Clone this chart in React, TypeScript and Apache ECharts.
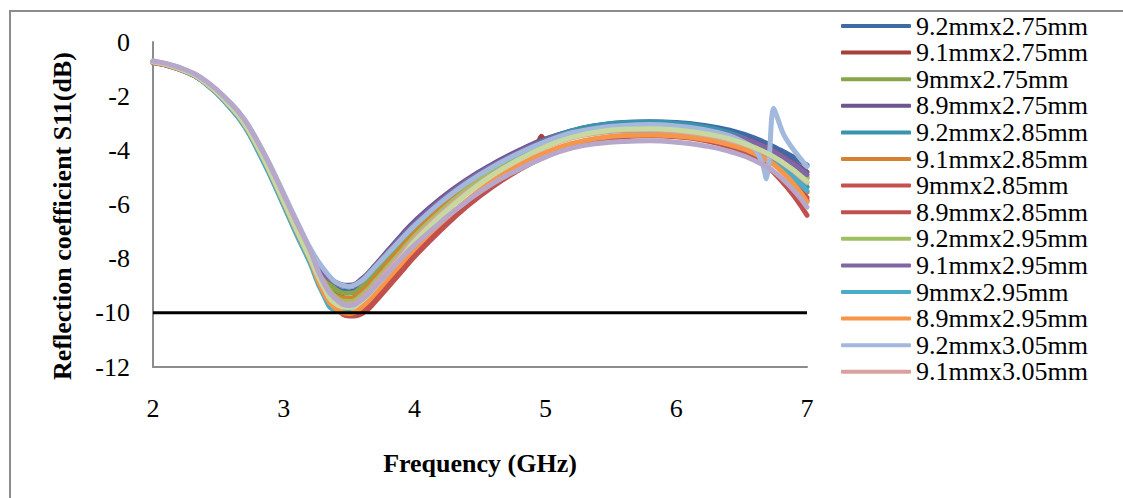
import React, { useEffect, useRef } from "react";
import * as echarts from "echarts";

const FREQ = [2.0, 2.2, 2.4, 2.6, 2.7, 2.8, 2.9, 3.0, 3.1, 3.2, 3.3, 3.4, 3.5, 3.6, 3.7, 3.8, 3.9, 4.0, 4.2, 4.4, 4.6, 4.8, 5.0, 5.2, 5.4, 5.6, 5.8, 6.0, 6.2, 6.4, 6.6, 6.8, 7.0];
const FREQ_S2 = [2.0, 2.2, 2.4, 2.6, 2.7, 2.8, 2.9, 3.0, 3.1, 3.2, 3.3, 3.4, 3.5, 3.6, 3.7, 3.8, 3.9, 4.0, 4.2, 4.4, 4.6, 4.8, 4.9, 4.94, 4.97, 5.0, 5.2, 5.4, 5.6, 5.8, 6.0, 6.2, 6.4, 6.6, 6.8, 7.0];
const FREQ_S13 = [2.0, 2.2, 2.4, 2.6, 2.7, 2.8, 2.9, 3.0, 3.1, 3.2, 3.3, 3.4, 3.5, 3.6, 3.7, 3.8, 3.9, 4.0, 4.2, 4.4, 4.6, 4.8, 5.0, 5.2, 5.4, 5.6, 5.8, 6.0, 6.2, 6.4, 6.5, 6.6, 6.66, 6.69, 6.71, 6.73, 6.745, 6.77, 6.82, 6.9, 7.0];

const S1 = [-0.72, -0.97, -1.47, -2.37, -2.97, -3.8, -4.75, -5.8, -6.85, -7.85, -8.6, -9.1, -9.22, -8.97, -8.47, -7.92, -7.37, -6.85, -5.95, -5.2, -4.57, -4.05, -3.6, -3.28, -3.08, -2.97, -2.94, -2.97, -3.07, -3.25, -3.55, -4.0, -4.55];
const S2 = [-0.74, -0.99, -1.49, -2.4, -3.0, -3.83, -4.78, -5.83, -6.88, -7.87, -8.6, -9.28, -9.5, -9.25, -8.72, -8.12, -7.52, -6.95, -6.0, -5.22, -4.58, -4.05, -3.83, -3.74, -3.48, -3.66, -3.38, -3.22, -3.15, -3.15, -3.2, -3.33, -3.55, -3.95, -4.7, -5.85];
const S3 = [-0.73, -0.98, -1.48, -2.38, -2.98, -3.82, -4.77, -5.82, -6.87, -7.86, -8.6, -9.15, -9.28, -9.03, -8.53, -7.98, -7.43, -6.92, -6.02, -5.25, -4.62, -4.1, -3.68, -3.38, -3.2, -3.12, -3.12, -3.17, -3.28, -3.47, -3.78, -4.28, -5.0];
const S4 = [-0.72, -0.97, -1.46, -2.35, -2.95, -3.78, -4.72, -5.76, -6.8, -7.78, -8.5, -8.88, -8.98, -8.73, -8.23, -7.68, -7.13, -6.62, -5.78, -5.08, -4.5, -4.0, -3.58, -3.32, -3.18, -3.1, -3.08, -3.1, -3.2, -3.38, -3.68, -4.15, -4.8];
const S5 = [-0.73, -0.99, -1.52, -2.47, -3.1, -3.97, -4.95, -6.02, -7.1, -8.1, -9.1, -9.65, -9.68, -9.35, -8.85, -8.3, -7.75, -7.18, -6.2, -5.35, -4.65, -4.08, -3.62, -3.28, -3.07, -2.97, -2.95, -3.0, -3.12, -3.35, -3.75, -4.4, -5.35];
const S6 = [-0.73, -0.98, -1.49, -2.4, -3.01, -3.85, -4.8, -5.86, -6.92, -7.92, -8.75, -9.38, -9.47, -9.2, -8.7, -8.15, -7.6, -7.07, -6.15, -5.37, -4.72, -4.2, -3.77, -3.47, -3.3, -3.23, -3.23, -3.28, -3.4, -3.6, -3.95, -4.55, -5.55];
const S7 = [-0.76, -1.0, -1.5, -2.4, -3.0, -3.83, -4.78, -5.83, -6.88, -7.9, -9.05, -9.72, -10.03, -9.9, -9.45, -8.9, -8.35, -7.8, -6.85, -5.98, -5.25, -4.65, -4.18, -3.82, -3.6, -3.47, -3.42, -3.45, -3.55, -3.75, -4.1, -4.7, -5.75];
const S8 = [-0.76, -1.0, -1.5, -2.41, -3.02, -3.85, -4.8, -5.85, -6.9, -7.92, -9.1, -9.78, -10.12, -10.02, -9.58, -9.03, -8.48, -7.92, -6.95, -6.07, -5.33, -4.72, -4.23, -3.86, -3.63, -3.5, -3.46, -3.5, -3.62, -3.87, -4.28, -5.1, -6.4];
const S9 = [-0.72, -0.97, -1.48, -2.39, -3.0, -3.84, -4.8, -5.86, -6.92, -7.92, -8.8, -9.43, -9.58, -9.33, -8.83, -8.28, -7.73, -7.18, -6.25, -5.45, -4.78, -4.24, -3.8, -3.48, -3.28, -3.18, -3.17, -3.22, -3.33, -3.52, -3.83, -4.32, -5.05];
const S10 = [-0.72, -0.97, -1.46, -2.36, -2.96, -3.79, -4.73, -5.78, -6.82, -7.8, -8.5, -8.9, -9.03, -8.78, -8.28, -7.73, -7.2, -6.7, -5.85, -5.13, -4.55, -4.05, -3.63, -3.35, -3.18, -3.1, -3.1, -3.13, -3.23, -3.42, -3.72, -4.2, -4.9];
const S11 = [-0.74, -1.0, -1.53, -2.49, -3.12, -4.0, -4.98, -6.05, -7.13, -8.15, -9.3, -9.88, -9.85, -9.5, -9.0, -8.45, -7.9, -7.38, -6.42, -5.58, -4.88, -4.3, -3.85, -3.52, -3.35, -3.28, -3.28, -3.33, -3.45, -3.67, -4.02, -4.6, -5.5];
const S12 = [-0.74, -0.99, -1.5, -2.42, -3.04, -3.89, -4.86, -5.93, -7.0, -8.02, -9.2, -9.85, -10.02, -9.77, -9.27, -8.72, -8.17, -7.63, -6.68, -5.85, -5.12, -4.55, -4.08, -3.75, -3.55, -3.45, -3.43, -3.47, -3.58, -3.78, -4.12, -4.75, -5.9];
const S13 = [-0.7, -0.94, -1.42, -2.28, -2.86, -3.66, -4.58, -5.6, -6.62, -7.6, -8.35, -8.88, -9.03, -8.8, -8.3, -7.78, -7.27, -6.78, -5.92, -5.2, -4.6, -4.1, -3.68, -3.35, -3.17, -3.08, -3.05, -3.1, -3.22, -3.45, -3.65, -3.95, -4.5, -5.05, -4.4, -2.8, -2.45, -2.75, -3.4, -4.0, -4.6];
const S14 = [-0.72, -0.97, -1.47, -2.37, -2.97, -3.81, -4.76, -5.81, -6.86, -7.86, -8.85, -9.53, -9.68, -9.43, -8.93, -8.38, -7.83, -7.28, -6.35, -5.55, -4.88, -4.33, -3.88, -3.55, -3.35, -3.26, -3.25, -3.3, -3.42, -3.62, -3.93, -4.42, -5.2];
const S15 = [-0.73, -0.98, -1.49, -2.41, -3.02, -3.87, -4.84, -5.9, -6.96, -7.98, -9.0, -9.68, -9.8, -9.55, -9.05, -8.5, -7.95, -7.36, -6.42, -5.6, -4.9, -4.33, -3.87, -3.52, -3.32, -3.22, -3.2, -3.25, -3.37, -3.57, -3.9, -4.4, -5.15];
const S16 = [-0.7, -0.94, -1.43, -2.3, -2.88, -3.69, -4.62, -5.65, -6.68, -7.68, -8.85, -9.5, -9.73, -9.5, -9.02, -8.5, -7.98, -7.5, -6.65, -5.88, -5.22, -4.7, -4.25, -3.92, -3.75, -3.67, -3.65, -3.7, -3.82, -4.03, -4.38, -5.0, -6.1];

const NAMES = [
  "9.2mmx2.75mm", "9.1mmx2.75mm", "9mmx2.75mm", "8.9mmx2.75mm",
  "9.2mmx2.85mm", "9.1mmx2.85mm", "9mmx2.85mm", "8.9mmx2.85mm",
  "9.2mmx2.95mm", "9.1mmx2.95mm", "9mmx2.95mm", "8.9mmx2.95mm",
  "9.2mmx3.05mm", "9.1mmx3.05mm", "9mmx3.05mm", "8.9mmx3.05mm",
];
const LEGEND_SHOWN = NAMES.slice(0, 14);
const COLORS = [
  "#3D6BA5", "#A6403D", "#87A64C", "#6C5590",
  "#3A93AC", "#D6812F", "#C4514E", "#C0504D",
  "#A0C060", "#8066A3", "#4BACC6", "#F79646",
  "#A2B8DC", "#D9A19F", "#C8D9A0", "#B7A8CB",
];
const VALUES = [S1, S2, S3, S4, S5, S6, S7, S8, S9, S10, S11, S12, S13, S14, S15, S16];
const XS = [FREQ, FREQ_S2, FREQ, FREQ, FREQ, FREQ, FREQ, FREQ, FREQ, FREQ, FREQ, FREQ, FREQ_S13, FREQ, FREQ, FREQ];
const THRESHOLD_X = [2, 7];
const THRESHOLD_Y = [-10, -10];

const FONT = "'Liberation Serif', 'Times New Roman', serif";

export default function App() {
  const ref = useRef<HTMLDivElement>(null);
  useEffect(() => {
    const chart = echarts.init(ref.current!, null, { renderer: "svg" });
    const series: any[] = VALUES.map((vals, i) => ({
      name: NAMES[i],
      type: "line",
      data: XS[i].map((f, j) => [f, vals[j]]),
      smooth: i === 12 || i === 1 ? 0.25 : 0.5,
      showSymbol: false,
      symbol: "none",
      color: COLORS[i],
      lineStyle: { width: 5, color: COLORS[i], cap: "round", join: "round" },
    }));
    series.push({
      name: "-10 dB",
      type: "line",
      data: THRESHOLD_X.map((x, i) => [x, THRESHOLD_Y[i]]),
      showSymbol: false,
      symbol: "none",
      color: "#000",
      lineStyle: { width: 3, color: "#000" },
    });
    chart.setOption({
      animation: false,
      backgroundColor: "#fff",
      grid: { left: 153, right: 316, top: 42, bottom: 131, containLabel: false },
      xAxis: {
        type: "value",
        min: 2,
        max: 7,
        interval: 1,
        axisLine: { show: true, onZero: false, lineStyle: { color: "#8c8c8c", width: 2 } },
        axisTick: { show: false },
        splitLine: { show: false },
        axisLabel: { color: "#000", fontSize: 26, fontFamily: FONT, margin: 28 },
      },
      yAxis: {
        type: "value",
        min: -12,
        max: 0,
        interval: 2,
        axisLine: { show: true, onZero: false, lineStyle: { color: "#8c8c8c", width: 2 } },
        axisTick: { show: false },
        splitLine: { show: false },
        axisLabel: { color: "#000", fontSize: 26, fontFamily: FONT, margin: 23 },
      },
      legend: {
        data: LEGEND_SHOWN,
        orient: "vertical",
        left: 841,
        top: 13,
        padding: 0,
        itemWidth: 70,
        itemHeight: 4,
        itemGap: 0.6,
        icon: "roundRect",
        textStyle: { color: "#000", fontSize: 26, fontFamily: FONT, lineHeight: 26 },
      },
      graphic: [
        {
          type: "rect",
          shape: { x: 10, y: 11, width: 1300, height: 700 },
          style: { fill: "none", stroke: "#8c8c8c", lineWidth: 2 },
          silent: true,
        },
        {
          type: "text",
          x: 480,
          y: 463,
          style: {
            text: "Frequency (GHz)",
            font: `bold 26px ${FONT}`,
            fill: "#000",
            textAlign: "center",
            textVerticalAlign: "middle",
          },
        },
        {
          type: "text",
          x: 62,
          y: 216,
          rotation: Math.PI / 2,
          style: {
            text: "Reflection coefficient S11(dB)",
            font: `bold 26px ${FONT}`,
            fill: "#000",
            textAlign: "center",
            textVerticalAlign: "middle",
          },
        },
      ],
      series,
    });
    return () => chart.dispose();
  }, []);
  return (
    <div
      ref={ref}
      style={{ position: "fixed", left: 0, top: 0, width: 1123, height: 498, background: "#fff" }}
    />
  );
}
